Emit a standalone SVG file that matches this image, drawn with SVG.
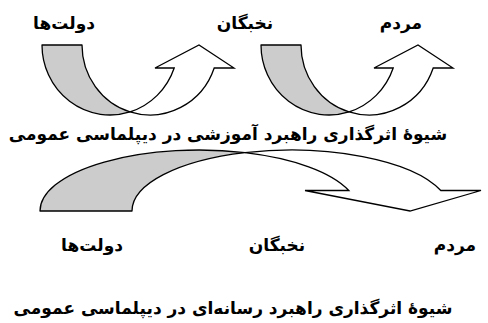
<svg xmlns="http://www.w3.org/2000/svg" width="488" height="323" viewBox="0 0 488 323">
<style>
.lbl{font-family:"DejaVu Sans",sans-serif;font-weight:bold;font-size:17px;fill:#000;text-anchor:middle}
.ttl{font-family:"DejaVu Sans",sans-serif;font-weight:bold;font-size:17px;fill:#000;text-anchor:middle}
.back{fill:#cccccc;stroke:#000;stroke-width:1.3;stroke-linejoin:round}
.front{fill:#ffffff;stroke:#000;stroke-width:1.3;stroke-linejoin:miter}
</style>
<rect width="488" height="323" fill="#fff"/>
<g id="connectors">
  <g id="arrow-top-1">
    <path class="back" d="M42,45 A68,70 0 0 0 130,111.9 A68,70 0 0 1 82,45 Z"/>
    <path class="front" d="M130,111.9 A68,70 0 0 0 214.2,68 L234,68 L199,45 L155,68 L174.2,68 A68,70 0 0 1 130,111.9 Z"/>
  </g>
  <g id="arrow-top-2" transform="translate(219,0)">
    <path class="back" d="M42,45 A68,70 0 0 0 130,111.9 A68,70 0 0 1 82,45 Z"/>
    <path class="front" d="M130,111.9 A68,70 0 0 0 214.2,68 L234,68 L199,45 L155,68 L174.2,68 A68,70 0 0 1 130,111.9 Z"/>
  </g>
  <g id="arrow-bottom">
    <path class="back" d="M40,211 A159,61 0 0 1 245,152.6 A159,61 0 0 0 132,211 Z"/>
    <path class="front" d="M245,152.6 A159,61 0 0 1 440.8,190.5 L481,190.5 L410,211 L305,190.5 L348.8,190.5 A159,61 0 0 0 245,152.6 Z"/>
  </g>
</g>
<g id="top-dolatha"><text class="lbl" x="64" y="29">دولت‌ها</text></g>
<g id="top-nokhbegan"><text class="lbl" x="245" y="29">نخبگان</text></g>
<g id="top-mardom"><text class="lbl" x="401" y="29">مردم</text></g>
<g id="title-1"><text class="ttl" x="228" y="140">شیوۀ اثرگذاری راهبرد آموزشی در دیپلماسی عمومی</text></g>
<g id="bottom-dolatha"><text class="lbl" x="92" y="251">دولت‌ها</text></g>
<g id="bottom-nokhbegan"><text class="lbl" x="277" y="251">نخبگان</text></g>
<g id="bottom-mardom"><text class="lbl" x="455" y="251">مردم</text></g>
<g id="title-2"><text class="ttl" x="233" y="314">شیوۀ اثرگذاری راهبرد رسانه‌ای در دیپلماسی عمومی</text></g>
</svg>
